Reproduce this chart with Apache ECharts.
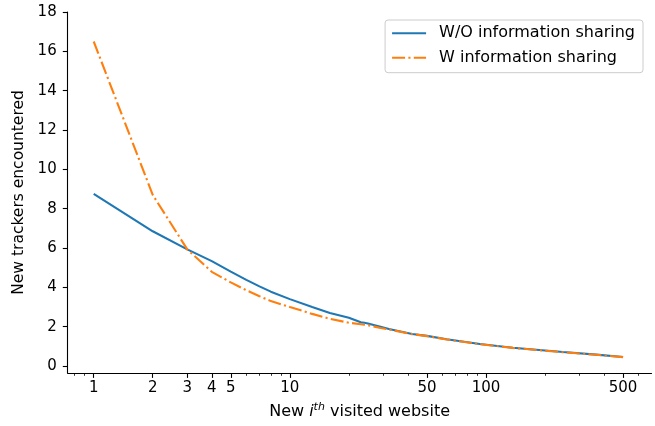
<!DOCTYPE html>
<html>
<head>
<meta charset="utf-8">
<script src="https://cdn.jsdelivr.net/npm/echarts@6/dist/echarts.min.js"></script>
<style>
html,body{margin:0;padding:0;background:#fff;}
#chart{width:655px;height:426px;}
</style>
</head>
<body>
<div id="chart"></div>
<script>
// i-th visited website (x) and new trackers encountered (y)
var websites = [1, 2, 3, 4, 5, 6, 7, 8, 10, 13, 16, 20, 23, 24, 25, 29, 32, 42, 50, 63, 93, 137, 200, 247, 365, 500];
var woSharing = [8.75, 6.85, 5.93, 5.33, 4.8, 4.38, 4.05, 3.78, 3.4, 3.0, 2.7, 2.45, 2.22, 2.2, 2.16, 2.0, 1.88, 1.63, 1.53, 1.36, 1.12, 0.93, 0.79, 0.71, 0.58, 0.46];
var wSharing = [16.5, 8.7, 5.93, 4.79, 4.25, 3.85, 3.55, 3.3, 3.0, 2.65, 2.4, 2.2, 2.12, 2.1, 2.08, 1.93, 1.86, 1.62, 1.52, 1.35, 1.11, 0.92, 0.78, 0.7, 0.57, 0.45];
var seriesNames = ['W/O information sharing', 'W information sharing'];
var xMajorTicks = [1, 2, 3, 4, 5, 10, 50, 100, 500];
var xMinorTicks = [0.8, 0.9, 6, 7, 8, 9, 20, 30, 40, 60, 70, 80, 90, 200, 300, 400, 600];
var yTicks = [0, 2, 4, 6, 8, 10, 12, 14, 16, 18];

var FONT = 'DejaVu Sans';
var chart = echarts.init(document.getElementById('chart'), null, {renderer: 'canvas'});

function pairs(xs, ys) { return xs.map(function (x, k) { return [x, ys[k]]; }); }

var option = {
  animation: false,
  backgroundColor: '#ffffff',
  textStyle: {fontFamily: FONT},
  grid: {left: 67.7, right: 3.5, top: 12, bottom: 53, containLabel: false},
  legend: {
    orient: 'vertical',
    right: 12, top: 20,
    padding: [5.3, 8, 7, 6],
    itemWidth: 34, itemHeight: 14, itemGap: 8.4,
    borderColor: '#cccccc', borderWidth: 1, borderRadius: 3,
    backgroundColor: '#ffffff',
    itemStyle: {color: 'rgba(0,0,0,0)', borderWidth: 0, borderColor: 'rgba(0,0,0,0)', opacity: 0},
    textStyle: {fontSize: 16, fontFamily: FONT, color: '#000', padding: [0, 0, 0, 8], lineHeight: 16},
    data: seriesNames
  },
  xAxis: [{
    type: 'log', logBase: 10, min: 0.737, max: 698,
    position: 'bottom',
    axisLine: {show: true, onZero: false, lineStyle: {color: '#000', width: 1.1}},
    axisTick: {show: true, length: 4.9, lineStyle: {color: '#000', width: 1.1}, customValues: xMajorTicks},
    axisLabel: {show: true, margin: 8, fontSize: 15, fontFamily: FONT, color: '#000', customValues: xMajorTicks,
      formatter: function (v) { return String(Math.round(v)); }},
    splitLine: {show: false}, minorTick: {show: false},
    name: '{n|New }{i|i}{s|th}{n| visited website}',
    nameLocation: 'middle', nameGap: 29,
    nameTextStyle: {
      rich: {
        n: {fontSize: 16, fontFamily: FONT, color: '#000', lineHeight: 20},
        i: {fontSize: 16, fontFamily: FONT, color: '#000', fontStyle: 'italic', lineHeight: 20},
        s: {fontSize: 11, fontFamily: FONT, color: '#000', fontStyle: 'italic', lineHeight: 11, verticalAlign: 'top'}
      }
    }
  }, {
    type: 'log', logBase: 10, min: 0.737, max: 698,
    position: 'bottom',
    axisLine: {show: false, onZero: false},
    axisTick: {show: true, inside: false, length: 2.8, lineStyle: {color: '#000', width: 0.8}, customValues: xMinorTicks},
    axisLabel: {show: false},
    splitLine: {show: false}
  }],
  yAxis: {
    type: 'value', min: -0.356, max: 18,
    axisLine: {show: true, onZero: false, lineStyle: {color: '#000', width: 1.1}},
    axisTick: {show: true, length: 4.9, lineStyle: {color: '#000', width: 1.1}, customValues: yTicks},
    axisLabel: {show: true, margin: 11, fontSize: 15, fontFamily: FONT, color: '#000', customValues: yTicks},
    splitLine: {show: false},
    name: 'New trackers encountered',
    nameLocation: 'middle', nameGap: 38,
    nameTextStyle: {fontSize: 15.5, fontFamily: FONT, color: '#000'}
  },
  series: [{
    name: seriesNames[0], type: 'line', xAxisIndex: 0,
    data: pairs(websites, woSharing),
    symbol: 'none', smooth: false,
    lineStyle: {color: '#1f77b4', width: 2.1},
    itemStyle: {color: '#1f77b4'}
  }, {
    name: seriesNames[1], type: 'line', xAxisIndex: 0,
    data: pairs(websites, wSharing),
    symbol: 'none', smooth: false,
    lineStyle: {color: '#ff7f0e', width: 2.1, type: [13, 3.3, 2.1, 3.3]},
    itemStyle: {color: '#ff7f0e'}
  }]
};
chart.setOption(option);
</script>
</body>
</html>
